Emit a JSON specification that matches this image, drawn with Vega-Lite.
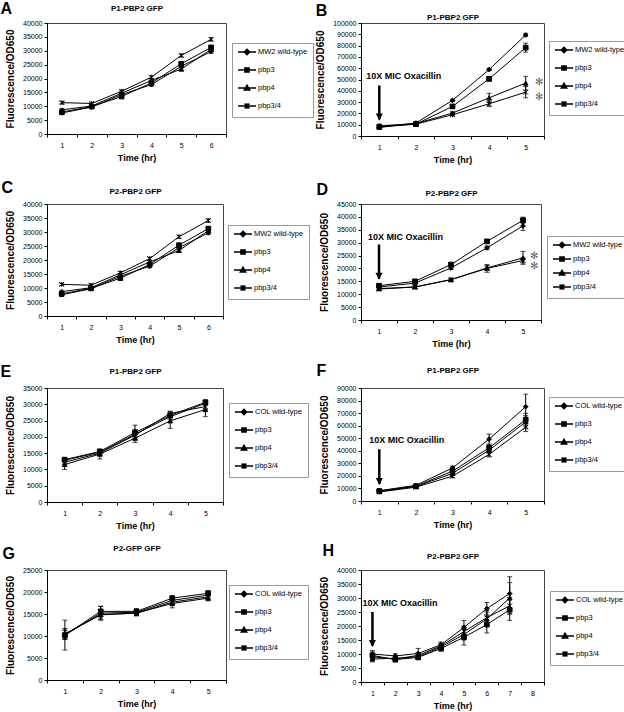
{
"$schema": "https://vega.github.io/schema/vega-lite/v6.json",
"padding": 0,
"columns": 2,
"bounds": "flush",
"spacing": {"row": 68, "column": 135},
"resolve": {"scale": {"shape": "independent"}, "legend": {"shape": "independent"}},
"datasets": {
"a": [
{"t":1,"s":"MW2 wild-type","v":7600,"lo":7100,"hi":8100},{"t":1,"s":"pbp3","v":7900,"lo":7400,"hi":8400},{"t":1,"s":"pbp4","v":8700,"lo":8200,"hi":9200},{"t":1,"s":"pbp3/4","v":11300,"lo":10900,"hi":11700},
{"t":2,"s":"MW2 wild-type","v":9700,"lo":9300,"hi":10100},{"t":2,"s":"pbp3","v":9900,"lo":9500,"hi":10300},{"t":2,"s":"pbp4","v":10100,"lo":9700,"hi":10500},{"t":2,"s":"pbp3/4","v":11000,"lo":10600,"hi":11400},
{"t":3,"s":"MW2 wild-type","v":14200,"lo":13700,"hi":14700},{"t":3,"s":"pbp3","v":13500,"lo":13000,"hi":14000},{"t":3,"s":"pbp4","v":14700,"lo":14200,"hi":15200},{"t":3,"s":"pbp3/4","v":15400,"lo":14900,"hi":15900},
{"t":4,"s":"MW2 wild-type","v":17800,"lo":17200,"hi":18400},{"t":4,"s":"pbp3","v":18400,"lo":17900,"hi":18900},{"t":4,"s":"pbp4","v":19300,"lo":18800,"hi":19800},{"t":4,"s":"pbp3/4","v":20500,"lo":20000,"hi":21000},
{"t":5,"s":"MW2 wild-type","v":24400,"lo":23800,"hi":25000},{"t":5,"s":"pbp3","v":25300,"lo":24700,"hi":25900},{"t":5,"s":"pbp4","v":23400,"lo":22700,"hi":24100},{"t":5,"s":"pbp3/4","v":28300,"lo":27800,"hi":28800},
{"t":6,"s":"MW2 wild-type","v":29700,"lo":29100,"hi":30300},{"t":6,"s":"pbp3","v":31200,"lo":30500,"hi":31900},{"t":6,"s":"pbp4","v":30500,"lo":29900,"hi":31100},{"t":6,"s":"pbp3/4","v":34100,"lo":33500,"hi":34700}
],
"b": [
{"t":1,"s":"MW2 wild-type","v":7500,"lo":6000,"hi":9000},{"t":1,"s":"pbp3","v":8000,"lo":6500,"hi":9500},{"t":1,"s":"pbp4","v":9000,"lo":7500,"hi":10500},{"t":1,"s":"pbp3/4","v":8500,"lo":7000,"hi":10000},
{"t":2,"s":"MW2 wild-type","v":11500,"lo":10700,"hi":12300},{"t":2,"s":"pbp3","v":10500,"lo":9700,"hi":11300},{"t":2,"s":"pbp4","v":11000,"lo":10200,"hi":11800},{"t":2,"s":"pbp3/4","v":10500,"lo":9700,"hi":11300},
{"t":3,"s":"MW2 wild-type","v":31500,"lo":30500,"hi":32500},{"t":3,"s":"pbp3","v":26200,"lo":25200,"hi":27200},{"t":3,"s":"pbp4","v":20300,"lo":18800,"hi":21800},{"t":3,"s":"pbp3/4","v":18800,"lo":17800,"hi":19800},
{"t":4,"s":"MW2 wild-type","v":58800,"lo":57800,"hi":59800},{"t":4,"s":"pbp3","v":50600,"lo":48600,"hi":52600},{"t":4,"s":"pbp4","v":33800,"lo":29800,"hi":37800},{"t":4,"s":"pbp3/4","v":28500,"lo":26000,"hi":31000},
{"t":5,"s":"MW2 wild-type","v":89400,"lo":87900,"hi":90900},{"t":5,"s":"pbp3","v":78200,"lo":74200,"hi":82200},{"t":5,"s":"pbp4","v":46800,"lo":40800,"hi":52800},{"t":5,"s":"pbp3/4","v":38800,"lo":33800,"hi":43800}
],
"d": [
{"t":1,"s":"MW2 wild-type","v":12800,"lo":12200,"hi":13400},{"t":1,"s":"pbp3","v":13300,"lo":12700,"hi":13900},{"t":1,"s":"pbp4","v":12200,"lo":11600,"hi":12800},{"t":1,"s":"pbp3/4","v":12000,"lo":11400,"hi":12600},
{"t":2,"s":"MW2 wild-type","v":14300,"lo":13800,"hi":14800},{"t":2,"s":"pbp3","v":15000,"lo":14500,"hi":15500},{"t":2,"s":"pbp4","v":12800,"lo":12300,"hi":13300},{"t":2,"s":"pbp3/4","v":12800,"lo":12300,"hi":13300},
{"t":3,"s":"MW2 wild-type","v":20200,"lo":19600,"hi":20800},{"t":3,"s":"pbp3","v":21500,"lo":20900,"hi":22100},{"t":3,"s":"pbp4","v":15600,"lo":15100,"hi":16100},{"t":3,"s":"pbp3/4","v":15700,"lo":15200,"hi":16200},
{"t":4,"s":"MW2 wild-type","v":28000,"lo":27300,"hi":28700},{"t":4,"s":"pbp3","v":30500,"lo":30000,"hi":31000},{"t":4,"s":"pbp4","v":20200,"lo":19200,"hi":21200},{"t":4,"s":"pbp3/4","v":20000,"lo":18500,"hi":21500},
{"t":5,"s":"MW2 wild-type","v":36500,"lo":34700,"hi":38300},{"t":5,"s":"pbp3","v":38700,"lo":37500,"hi":39900},{"t":5,"s":"pbp4","v":24100,"lo":21600,"hi":26600},{"t":5,"s":"pbp3/4","v":23100,"lo":22100,"hi":24100}
],
"e": [
{"t":1,"s":"COL wild-type","v":12800,"lo":12200,"hi":13400},{"t":1,"s":"pbp3","v":13000,"lo":12400,"hi":13600},{"t":1,"s":"pbp4","v":11500,"lo":10000,"hi":13000},{"t":1,"s":"pbp3/4","v":12200,"lo":11400,"hi":13000},
{"t":2,"s":"COL wild-type","v":15300,"lo":14600,"hi":16000},{"t":2,"s":"pbp3","v":15500,"lo":14800,"hi":16200},{"t":2,"s":"pbp4","v":14700,"lo":13200,"hi":16200},{"t":2,"s":"pbp3/4","v":15000,"lo":14200,"hi":15800},
{"t":3,"s":"COL wild-type","v":20800,"lo":19300,"hi":22300},{"t":3,"s":"pbp3","v":21300,"lo":19000,"hi":23600},{"t":3,"s":"pbp4","v":19600,"lo":18300,"hi":20900},{"t":3,"s":"pbp3/4","v":20500,"lo":19300,"hi":21700},
{"t":4,"s":"COL wild-type","v":26200,"lo":25400,"hi":27000},{"t":4,"s":"pbp3","v":26600,"lo":25800,"hi":27400},{"t":4,"s":"pbp4","v":24900,"lo":22600,"hi":27200},{"t":4,"s":"pbp3/4","v":27200,"lo":26500,"hi":27900},
{"t":5,"s":"COL wild-type","v":30300,"lo":29500,"hi":31100},{"t":5,"s":"pbp3","v":30600,"lo":29800,"hi":31400},{"t":5,"s":"pbp4","v":28400,"lo":26200,"hi":30600},{"t":5,"s":"pbp3/4","v":29300,"lo":28300,"hi":30300}
],
"f": [
{"t":1,"s":"COL wild-type","v":8200,"lo":7400,"hi":9000},{"t":1,"s":"pbp3","v":8000,"lo":7200,"hi":8800},{"t":1,"s":"pbp4","v":7500,"lo":6700,"hi":8300},{"t":1,"s":"pbp3/4","v":7200,"lo":6400,"hi":8000},
{"t":2,"s":"COL wild-type","v":12500,"lo":11700,"hi":13300},{"t":2,"s":"pbp3","v":11800,"lo":11000,"hi":12600},{"t":2,"s":"pbp4","v":11500,"lo":10700,"hi":12300},{"t":2,"s":"pbp3/4","v":11000,"lo":10200,"hi":11800},
{"t":3,"s":"COL wild-type","v":26300,"lo":24800,"hi":27800},{"t":3,"s":"pbp3","v":23800,"lo":22300,"hi":25300},{"t":3,"s":"pbp4","v":22000,"lo":20500,"hi":23500},{"t":3,"s":"pbp3/4","v":19800,"lo":18600,"hi":21000},
{"t":4,"s":"COL wild-type","v":49300,"lo":45300,"hi":53300},{"t":4,"s":"pbp3","v":42300,"lo":39800,"hi":44800},{"t":4,"s":"pbp4","v":40500,"lo":38000,"hi":43000},{"t":4,"s":"pbp3/4","v":37100,"lo":35100,"hi":39100},
{"t":5,"s":"COL wild-type","v":75100,"lo":65100,"hi":85100},{"t":5,"s":"pbp3","v":64800,"lo":59800,"hi":69800},{"t":5,"s":"pbp4","v":63000,"lo":58000,"hi":68000},{"t":5,"s":"pbp3/4","v":58800,"lo":55300,"hi":62300}
],
"g": [
{"t":1,"s":"COL wild-type","v":10200,"lo":6800,"hi":13600},{"t":1,"s":"pbp3","v":10200,"lo":9200,"hi":11200},{"t":1,"s":"pbp4","v":10500,"lo":9300,"hi":11700},{"t":1,"s":"pbp3/4","v":10400,"lo":9400,"hi":11400},
{"t":2,"s":"COL wild-type","v":15200,"lo":13700,"hi":16700},{"t":2,"s":"pbp3","v":15600,"lo":14400,"hi":16800},{"t":2,"s":"pbp4","v":14800,"lo":13600,"hi":16000},{"t":2,"s":"pbp3/4","v":14900,"lo":13900,"hi":15900},
{"t":3,"s":"COL wild-type","v":15400,"lo":14800,"hi":16000},{"t":3,"s":"pbp3","v":15600,"lo":15000,"hi":16200},{"t":3,"s":"pbp4","v":15200,"lo":14600,"hi":15800},{"t":3,"s":"pbp3/4","v":15200,"lo":14600,"hi":15800},
{"t":4,"s":"COL wild-type","v":18100,"lo":17400,"hi":18800},{"t":4,"s":"pbp3","v":18600,"lo":18100,"hi":19100},{"t":4,"s":"pbp4","v":17400,"lo":16400,"hi":18400},{"t":4,"s":"pbp3/4","v":17700,"lo":17000,"hi":18400},
{"t":5,"s":"COL wild-type","v":19300,"lo":18700,"hi":19900},{"t":5,"s":"pbp3","v":19700,"lo":19100,"hi":20300},{"t":5,"s":"pbp4","v":18600,"lo":18000,"hi":19200},{"t":5,"s":"pbp3/4","v":18900,"lo":18300,"hi":19500}
],
"h": [
{"t":1,"s":"COL wild-type","v":10000,"lo":8800,"hi":11200},{"t":1,"s":"pbp3","v":9500,"lo":8300,"hi":10700},{"t":1,"s":"pbp4","v":8200,"lo":7200,"hi":9200},{"t":1,"s":"pbp3/4","v":9000,"lo":8000,"hi":10000},
{"t":2,"s":"COL wild-type","v":9300,"lo":8500,"hi":10100},{"t":2,"s":"pbp3","v":8000,"lo":7200,"hi":8800},{"t":2,"s":"pbp4","v":8500,"lo":7700,"hi":9300},{"t":2,"s":"pbp3/4","v":8200,"lo":7400,"hi":9000},
{"t":3,"s":"COL wild-type","v":10200,"lo":8400,"hi":12000},{"t":3,"s":"pbp3","v":8800,"lo":8000,"hi":9600},{"t":3,"s":"pbp4","v":9000,"lo":8200,"hi":9800},{"t":3,"s":"pbp3/4","v":9500,"lo":8700,"hi":10300},
{"t":4,"s":"COL wild-type","v":13300,"lo":12300,"hi":14300},{"t":4,"s":"pbp3","v":12000,"lo":11000,"hi":13000},{"t":4,"s":"pbp4","v":12500,"lo":11500,"hi":13500},{"t":4,"s":"pbp3/4","v":12900,"lo":11900,"hi":13900},
{"t":5,"s":"COL wild-type","v":19500,"lo":17000,"hi":22000},{"t":5,"s":"pbp3","v":16000,"lo":13200,"hi":18800},{"t":5,"s":"pbp4","v":17000,"lo":15000,"hi":19000},{"t":5,"s":"pbp3/4","v":18000,"lo":16000,"hi":20000},
{"t":6,"s":"COL wild-type","v":26200,"lo":24000,"hi":28400},{"t":6,"s":"pbp3","v":20500,"lo":17500,"hi":23500},{"t":6,"s":"pbp4","v":22500,"lo":20000,"hi":25000},{"t":6,"s":"pbp3/4","v":23000,"lo":20500,"hi":25500},
{"t":7,"s":"COL wild-type","v":31600,"lo":25600,"hi":37600},{"t":7,"s":"pbp3","v":25800,"lo":22000,"hi":29600},{"t":7,"s":"pbp4","v":30000,"lo":24500,"hi":35500},{"t":7,"s":"pbp3/4","v":27200,"lo":24200,"hi":30200}
]
},
"concat": [
{"title": {"text": "A", "offset": -13, "dx": -5},
 "width": 179, "height": 111, "data": {"name": "a"},
 "resolve": {"axis": {"x": "independent"}, "scale": {"shape": "independent"}, "legend": {"shape": "independent"}},
 "encoding": {
  "x": {"field": "t", "type": "ordinal", "scale": {"type": "band", "domain": [1,2,3,4,5,6], "paddingInner": 0, "paddingOuter": 0}, "axis": null},
  "y": {"field": "v", "type": "quantitative", "title": "Fluorescence/OD650", "scale": {"domain": [0, 40000], "nice": false}, "axis": {"values": [0,5000,10000,15000,20000,25000,30000,35000,40000], "format": "d"}}},
 "layer": [
  {"mark": {"type": "errorbar", "ticks": {"size": 5}, "color": "black", "thickness": 1}, "encoding": {
    "x": {"field": "t", "type": "ordinal", "title": "Time (hr)", "scale": {"type": "band", "domain": [1,2,3,4,5,6], "paddingInner": 0, "paddingOuter": 0}, "axis": {"orient": "bottom", "tickBand": "extent"}},
    "y": {"field": "lo", "type": "quantitative", "title": "Fluorescence/OD650", "scale": {"domain": [0, 40000], "nice": false}, "axis": {"values": [0,5000,10000,15000,20000,25000,30000,35000,40000], "format": "d"}}, "y2": {"field": "hi"}, "detail": {"field": "s"}}},
  {"mark": {"type": "line", "color": "black", "strokeWidth": 1}, "encoding": {
    "x": {"field": "t", "type": "ordinal", "title": "P1-PBP2 GFP", "scale": {"type": "band", "domain": [1,2,3,4,5,6], "paddingInner": 0, "paddingOuter": 0}, "axis": {"orient": "top", "labels": false, "ticks": false, "domain": false, "titlePadding": 11, "titleFontSize": 8}},
    "detail": {"field": "s"}}},
  {"mark": {"type": "point", "filled": true, "fill": "black", "stroke": "black", "strokeWidth": 1, "size": 22, "opacity": 1}, "encoding": {"shape": {"field": "s", "type": "nominal", "scale": {"domain": ["MW2 wild-type","pbp3","pbp4","pbp3/4"], "range": ["diamond","square","triangle-up","M-1,-1L1,1M-1,1L1,-1M0,-1V1"]}, "legend": null}}},
  {"mark": {"type": "point", "filled": true, "fill": "black", "stroke": "black", "strokeWidth": 1, "opacity": 0}, "encoding": {"shape": {"field": "s", "type": "nominal", "scale": {"domain": ["MW2 wild-type","pbp3","pbp4","pbp3/4"], "range": ["M-1,0H5M2,-0.9L2.9,0L2,0.9L1.1,0Z","M-1,0H5M1.3,-0.7H2.7V0.7H1.3Z","M-1,0H5M2,-0.9L2.9,0.7H1.1Z","M-1,0H5M1.2,-0.8L2.8,0.8M1.2,0.8L2.8,-0.8M2,-0.9V0.9"]}, "legend": {"orient": "none", "legendX": 185, "legendY": 20, "title": null}}}}
 ]
},
{"title": {"text": "B", "offset": -6, "dx": 0},
 "width": 183, "height": 113, "data": {"name": "b"},
 "resolve": {"axis": {"x": "independent"}, "scale": {"shape": "independent"}, "legend": {"shape": "independent"}},
 "encoding": {
  "x": {"field": "t", "type": "ordinal", "scale": {"type": "band", "domain": [1,2,3,4,5], "paddingInner": 0, "paddingOuter": 0}, "axis": null},
  "y": {"field": "v", "type": "quantitative", "title": "Fluorescence/OD650", "scale": {"domain": [0, 100000], "nice": false}, "axis": {"values": [0,10000,20000,30000,40000,50000,60000,70000,80000,90000,100000], "format": "d"}}},
 "layer": [
  {"mark": {"type": "errorbar", "ticks": {"size": 5}, "color": "black", "thickness": 1}, "encoding": {
    "x": {"field": "t", "type": "ordinal", "title": "Time (hr)", "scale": {"type": "band", "domain": [1,2,3,4,5], "paddingInner": 0, "paddingOuter": 0}, "axis": {"orient": "bottom", "tickBand": "extent"}},
    "y": {"field": "lo", "type": "quantitative", "title": "Fluorescence/OD650", "scale": {"domain": [0, 100000], "nice": false}, "axis": {"values": [0,10000,20000,30000,40000,50000,60000,70000,80000,90000,100000], "format": "d"}}, "y2": {"field": "hi"}, "detail": {"field": "s"}}},
  {"mark": {"type": "line", "color": "black", "strokeWidth": 1}, "encoding": {
    "x": {"field": "t", "type": "ordinal", "title": "P1-PBP2 GFP", "scale": {"type": "band", "domain": [1,2,3,4,5], "paddingInner": 0, "paddingOuter": 0}, "axis": {"orient": "top", "labels": false, "ticks": false, "domain": false, "titlePadding": 2, "titleFontSize": 8}},
    "detail": {"field": "s"}}},
  {"mark": {"type": "point", "filled": true, "fill": "black", "stroke": "black", "strokeWidth": 1, "size": 22, "opacity": 1}, "encoding": {"shape": {"field": "s", "type": "nominal", "scale": {"domain": ["MW2 wild-type","pbp3","pbp4","pbp3/4"], "range": ["diamond","square","triangle-up","M-1,-1L1,1M-1,1L1,-1M0,-1V1"]}, "legend": null}}},
  {"mark": {"type": "point", "filled": true, "fill": "black", "stroke": "black", "strokeWidth": 1, "opacity": 0}, "encoding": {"shape": {"field": "s", "type": "nominal", "scale": {"domain": ["MW2 wild-type","pbp3","pbp4","pbp3/4"], "range": ["M-1,0H5M2,-0.9L2.9,0L2,0.9L1.1,0Z","M-1,0H5M1.3,-0.7H2.7V0.7H1.3Z","M-1,0H5M2,-0.9L2.9,0.7H1.1Z","M-1,0H5M1.2,-0.8L2.8,0.8M1.2,0.8L2.8,-0.8M2,-0.9V0.9"]}, "legend": {"orient": "none", "legendX": 188, "legendY": 18, "title": null}}}},
  {"data": {"values": [{"t": 1, "v": 53000, "txt": "10X MIC Oxacillin"}]}, "mark": {"type": "text", "align": "left", "baseline": "middle", "dx": -13, "fontSize": 9, "fontWeight": "bold", "color": "black"}, "encoding": {"text": {"field": "txt"}}},
  {"data": {"values": [{"t": 1, "v": 44700, "v2": 14700}]}, "mark": {"type": "rule", "strokeWidth": 2.5, "color": "black"}, "encoding": {"y2": {"field": "v2"}}},
  {"data": {"values": [{"t": 1, "v": 13800}]}, "mark": {"type": "point", "shape": "M-1,-2L1,-2L0,0Z", "size": 49, "filled": true, "color": "black", "opacity": 1}},
  {"data": {"values": [{"t": 5, "v": 47600, "txt": "✻"}, {"t": 5, "v": 34400, "txt": "✻"}]}, "mark": {"type": "text", "dx": 13, "fontSize": 10, "color": "#666", "baseline": "middle"}, "encoding": {"text": {"field": "txt"}}}
 ]
},
{"title": {"text": "C", "offset": -9, "dx": -4},
 "width": 176, "height": 112, "data": {"name": "a"},
 "resolve": {"axis": {"x": "independent"}, "scale": {"shape": "independent"}, "legend": {"shape": "independent"}},
 "encoding": {
  "x": {"field": "t", "type": "ordinal", "scale": {"type": "band", "domain": [1,2,3,4,5,6], "paddingInner": 0, "paddingOuter": 0}, "axis": null},
  "y": {"field": "v", "type": "quantitative", "title": "Fluorescence/OD650", "scale": {"domain": [0, 40000], "nice": false}, "axis": {"values": [0,5000,10000,15000,20000,25000,30000,35000,40000], "format": "d"}}},
 "layer": [
  {"mark": {"type": "errorbar", "ticks": {"size": 5}, "color": "black", "thickness": 1}, "encoding": {
    "x": {"field": "t", "type": "ordinal", "title": "Time (hr)", "scale": {"type": "band", "domain": [1,2,3,4,5,6], "paddingInner": 0, "paddingOuter": 0}, "axis": {"orient": "bottom", "tickBand": "extent"}},
    "y": {"field": "lo", "type": "quantitative", "title": "Fluorescence/OD650", "scale": {"domain": [0, 40000], "nice": false}, "axis": {"values": [0,5000,10000,15000,20000,25000,30000,35000,40000], "format": "d"}}, "y2": {"field": "hi"}, "detail": {"field": "s"}}},
  {"mark": {"type": "line", "color": "black", "strokeWidth": 1}, "encoding": {
    "x": {"field": "t", "type": "ordinal", "title": "P2-PBP2 GFP", "scale": {"type": "band", "domain": [1,2,3,4,5,6], "paddingInner": 0, "paddingOuter": 0}, "axis": {"orient": "top", "labels": false, "ticks": false, "domain": false, "titlePadding": 9, "titleFontSize": 8}},
    "detail": {"field": "s"}}},
  {"mark": {"type": "point", "filled": true, "fill": "black", "stroke": "black", "strokeWidth": 1, "size": 22, "opacity": 1}, "encoding": {"shape": {"field": "s", "type": "nominal", "scale": {"domain": ["MW2 wild-type","pbp3","pbp4","pbp3/4"], "range": ["diamond","square","triangle-up","M-1,-1L1,1M-1,1L1,-1M0,-1V1"]}, "legend": null}}},
  {"mark": {"type": "point", "filled": true, "fill": "black", "stroke": "black", "strokeWidth": 1, "opacity": 0}, "encoding": {"shape": {"field": "s", "type": "nominal", "scale": {"domain": ["MW2 wild-type","pbp3","pbp4","pbp3/4"], "range": ["M-1,0H5M2,-0.9L2.9,0L2,0.9L1.1,0Z","M-1,0H5M1.3,-0.7H2.7V0.7H1.3Z","M-1,0H5M2,-0.9L2.9,0.7H1.1Z","M-1,0H5M1.2,-0.8L2.8,0.8M1.2,0.8L2.8,-0.8M2,-0.9V0.9"]}, "legend": {"orient": "none", "legendX": 181, "legendY": 21, "title": null}}}}
 ]
},
{"title": {"text": "D", "offset": -9, "dx": -3},
 "width": 180, "height": 116, "data": {"name": "d"},
 "resolve": {"axis": {"x": "independent"}, "scale": {"shape": "independent"}, "legend": {"shape": "independent"}},
 "encoding": {
  "x": {"field": "t", "type": "ordinal", "scale": {"type": "band", "domain": [1,2,3,4,5], "paddingInner": 0, "paddingOuter": 0}, "axis": null},
  "y": {"field": "v", "type": "quantitative", "title": "Fluorescence/OD650", "scale": {"domain": [0, 45000], "nice": false}, "axis": {"values": [0,5000,10000,15000,20000,25000,30000,35000,40000,45000], "format": "d"}}},
 "layer": [
  {"mark": {"type": "errorbar", "ticks": {"size": 5}, "color": "black", "thickness": 1}, "encoding": {
    "x": {"field": "t", "type": "ordinal", "title": "Time (hr)", "scale": {"type": "band", "domain": [1,2,3,4,5], "paddingInner": 0, "paddingOuter": 0}, "axis": {"orient": "bottom", "tickBand": "extent"}},
    "y": {"field": "lo", "type": "quantitative", "title": "Fluorescence/OD650", "scale": {"domain": [0, 45000], "nice": false}, "axis": {"values": [0,5000,10000,15000,20000,25000,30000,35000,40000,45000], "format": "d"}}, "y2": {"field": "hi"}, "detail": {"field": "s"}}},
  {"mark": {"type": "line", "color": "black", "strokeWidth": 1}, "encoding": {
    "x": {"field": "t", "type": "ordinal", "title": "P2-PBP2 GFP", "scale": {"type": "band", "domain": [1,2,3,4,5], "paddingInner": 0, "paddingOuter": 0}, "axis": {"orient": "top", "labels": false, "ticks": false, "domain": false, "titlePadding": 7, "titleFontSize": 8}},
    "detail": {"field": "s"}}},
  {"mark": {"type": "point", "filled": true, "fill": "black", "stroke": "black", "strokeWidth": 1, "size": 22, "opacity": 1}, "encoding": {"shape": {"field": "s", "type": "nominal", "scale": {"domain": ["MW2 wild-type","pbp3","pbp4","pbp3/4"], "range": ["diamond","square","triangle-up","M-1,-1L1,1M-1,1L1,-1M0,-1V1"]}, "legend": null}}},
  {"mark": {"type": "point", "filled": true, "fill": "black", "stroke": "black", "strokeWidth": 1, "opacity": 0}, "encoding": {"shape": {"field": "s", "type": "nominal", "scale": {"domain": ["MW2 wild-type","pbp3","pbp4","pbp3/4"], "range": ["M-1,0H5M2,-0.9L2.9,0L2,0.9L1.1,0Z","M-1,0H5M1.3,-0.7H2.7V0.7H1.3Z","M-1,0H5M2,-0.9L2.9,0.7H1.1Z","M-1,0H5M1.2,-0.8L2.8,0.8M1.2,0.8L2.8,-0.8M2,-0.9V0.9"]}, "legend": {"orient": "none", "legendX": 186, "legendY": 32, "rowPadding": 2, "title": null}}}},
  {"data": {"values": [{"t": 1, "v": 32300, "txt": "10X MIC Oxacillin"}]}, "mark": {"type": "text", "align": "left", "baseline": "middle", "dx": -11, "fontSize": 9, "fontWeight": "bold", "color": "black"}, "encoding": {"text": {"field": "txt"}}},
  {"data": {"values": [{"t": 1, "v": 29300, "v2": 16000}]}, "mark": {"type": "rule", "strokeWidth": 2.5, "color": "black"}, "encoding": {"y2": {"field": "v2"}}},
  {"data": {"values": [{"t": 1, "v": 15600}]}, "mark": {"type": "point", "shape": "M-1,-2L1,-2L0,0Z", "size": 49, "filled": true, "color": "black", "opacity": 1}},
  {"data": {"values": [{"t": 5, "v": 25000, "txt": "✻"}, {"t": 5, "v": 21100, "txt": "✻"}]}, "mark": {"type": "text", "dx": 11, "fontSize": 10, "color": "#666", "baseline": "middle"}, "encoding": {"text": {"field": "txt"}}}
 ]
},
{"title": {"text": "E", "offset": -13, "dx": -5},
 "width": 176, "height": 114, "data": {"name": "e"},
 "resolve": {"axis": {"x": "independent"}, "scale": {"shape": "independent"}, "legend": {"shape": "independent"}},
 "encoding": {
  "x": {"field": "t", "type": "ordinal", "scale": {"type": "band", "domain": [1,2,3,4,5], "paddingInner": 0, "paddingOuter": 0}, "axis": null},
  "y": {"field": "v", "type": "quantitative", "title": "Fluorescence/OD650", "scale": {"domain": [0, 35000], "nice": false}, "axis": {"values": [0,5000,10000,15000,20000,25000,30000,35000], "format": "d"}}},
 "layer": [
  {"mark": {"type": "errorbar", "ticks": {"size": 5}, "color": "black", "thickness": 1}, "encoding": {
    "x": {"field": "t", "type": "ordinal", "title": "Time (hr)", "scale": {"type": "band", "domain": [1,2,3,4,5], "paddingInner": 0, "paddingOuter": 0}, "axis": {"orient": "bottom", "tickBand": "extent"}},
    "y": {"field": "lo", "type": "quantitative", "title": "Fluorescence/OD650", "scale": {"domain": [0, 35000], "nice": false}, "axis": {"values": [0,5000,10000,15000,20000,25000,30000,35000], "format": "d"}}, "y2": {"field": "hi"}, "detail": {"field": "s"}}},
  {"mark": {"type": "line", "color": "black", "strokeWidth": 1}, "encoding": {
    "x": {"field": "t", "type": "ordinal", "title": "P1-PBP2 GFP", "scale": {"type": "band", "domain": [1,2,3,4,5], "paddingInner": 0, "paddingOuter": 0}, "axis": {"orient": "top", "labels": false, "ticks": false, "domain": false, "titlePadding": 13, "titleFontSize": 8}},
    "detail": {"field": "s"}}},
  {"mark": {"type": "point", "filled": true, "fill": "black", "stroke": "black", "strokeWidth": 1, "size": 22, "opacity": 1}, "encoding": {"shape": {"field": "s", "type": "nominal", "scale": {"domain": ["COL wild-type","pbp3","pbp4","pbp3/4"], "range": ["diamond","square","triangle-up","M-1,-1L1,1M-1,1L1,-1M0,-1V1"]}, "legend": null}}},
  {"mark": {"type": "point", "filled": true, "fill": "black", "stroke": "black", "strokeWidth": 1, "opacity": 0}, "encoding": {"shape": {"field": "s", "type": "nominal", "scale": {"domain": ["COL wild-type","pbp3","pbp4","pbp3/4"], "range": ["M-1,0H5M2,-0.9L2.9,0L2,0.9L1.1,0Z","M-1,0H5M1.3,-0.7H2.7V0.7H1.3Z","M-1,0H5M2,-0.9L2.9,0.7H1.1Z","M-1,0H5M1.2,-0.8L2.8,0.8M1.2,0.8L2.8,-0.8M2,-0.9V0.9"]}, "legend": {"orient": "none", "legendX": 182, "legendY": 15, "title": null}}}}
 ]
},
{"title": {"text": "F", "offset": -13, "dx": -3},
 "width": 183, "height": 113, "data": {"name": "f"},
 "resolve": {"axis": {"x": "independent"}, "scale": {"shape": "independent"}, "legend": {"shape": "independent"}},
 "encoding": {
  "x": {"field": "t", "type": "ordinal", "scale": {"type": "band", "domain": [1,2,3,4,5], "paddingInner": 0, "paddingOuter": 0}, "axis": null},
  "y": {"field": "v", "type": "quantitative", "title": "Fluorescence/OD650", "scale": {"domain": [0, 90000], "nice": false}, "axis": {"values": [0,10000,20000,30000,40000,50000,60000,70000,80000,90000], "format": "d"}}},
 "layer": [
  {"mark": {"type": "errorbar", "ticks": {"size": 5}, "color": "black", "thickness": 1}, "encoding": {
    "x": {"field": "t", "type": "ordinal", "title": "Time (hr)", "scale": {"type": "band", "domain": [1,2,3,4,5], "paddingInner": 0, "paddingOuter": 0}, "axis": {"orient": "bottom", "tickBand": "extent"}},
    "y": {"field": "lo", "type": "quantitative", "title": "Fluorescence/OD650", "scale": {"domain": [0, 90000], "nice": false}, "axis": {"values": [0,10000,20000,30000,40000,50000,60000,70000,80000,90000], "format": "d"}}, "y2": {"field": "hi"}, "detail": {"field": "s"}}},
  {"mark": {"type": "line", "color": "black", "strokeWidth": 1}, "encoding": {
    "x": {"field": "t", "type": "ordinal", "title": "P1-PBP2 GFP", "scale": {"type": "band", "domain": [1,2,3,4,5], "paddingInner": 0, "paddingOuter": 0}, "axis": {"orient": "top", "labels": false, "ticks": false, "domain": false, "titlePadding": 14, "titleFontSize": 8}},
    "detail": {"field": "s"}}},
  {"mark": {"type": "point", "filled": true, "fill": "black", "stroke": "black", "strokeWidth": 1, "size": 22, "opacity": 1}, "encoding": {"shape": {"field": "s", "type": "nominal", "scale": {"domain": ["COL wild-type","pbp3","pbp4","pbp3/4"], "range": ["diamond","square","triangle-up","M-1,-1L1,1M-1,1L1,-1M0,-1V1"]}, "legend": null}}},
  {"mark": {"type": "point", "filled": true, "fill": "black", "stroke": "black", "strokeWidth": 1, "opacity": 0}, "encoding": {"shape": {"field": "s", "type": "nominal", "scale": {"domain": ["COL wild-type","pbp3","pbp4","pbp3/4"], "range": ["M-1,0H5M2,-0.9L2.9,0L2,0.9L1.1,0Z","M-1,0H5M1.3,-0.7H2.7V0.7H1.3Z","M-1,0H5M2,-0.9L2.9,0.7H1.1Z","M-1,0H5M1.2,-0.8L2.8,0.8M1.2,0.8L2.8,-0.8M2,-0.9V0.9"]}, "legend": {"orient": "none", "legendX": 188, "legendY": 9, "title": null}}}},
  {"data": {"values": [{"t": 1, "v": 48500, "txt": "10X MIC Oxacillin"}]}, "mark": {"type": "text", "align": "left", "baseline": "middle", "dx": -10, "fontSize": 9, "fontWeight": "bold", "color": "black"}, "encoding": {"text": {"field": "txt"}}},
  {"data": {"values": [{"t": 1, "v": 41200, "v2": 13500}]}, "mark": {"type": "rule", "strokeWidth": 2.5, "color": "black"}, "encoding": {"y2": {"field": "v2"}}},
  {"data": {"values": [{"t": 1, "v": 12700}]}, "mark": {"type": "point", "shape": "M-1,-2L1,-2L0,0Z", "size": 49, "filled": true, "color": "black", "opacity": 1}}
 ]
},
{"title": {"text": "G", "offset": -18, "dx": -3},
 "width": 179, "height": 110, "data": {"name": "g"},
 "resolve": {"axis": {"x": "independent"}, "scale": {"shape": "independent"}, "legend": {"shape": "independent"}},
 "encoding": {
  "x": {"field": "t", "type": "ordinal", "scale": {"type": "band", "domain": [1,2,3,4,5], "paddingInner": 0, "paddingOuter": 0}, "axis": null},
  "y": {"field": "v", "type": "quantitative", "title": "Fluorescence/OD650", "scale": {"domain": [0, 25000], "nice": false}, "axis": {"values": [0,5000,10000,15000,20000,25000], "format": "d"}}},
 "layer": [
  {"mark": {"type": "errorbar", "ticks": {"size": 5}, "color": "black", "thickness": 1}, "encoding": {
    "x": {"field": "t", "type": "ordinal", "title": "Time (hr)", "scale": {"type": "band", "domain": [1,2,3,4,5], "paddingInner": 0, "paddingOuter": 0}, "axis": {"orient": "bottom", "tickBand": "extent"}},
    "y": {"field": "lo", "type": "quantitative", "title": "Fluorescence/OD650", "scale": {"domain": [0, 25000], "nice": false}, "axis": {"values": [0,5000,10000,15000,20000,25000], "format": "d"}}, "y2": {"field": "hi"}, "detail": {"field": "s"}}},
  {"mark": {"type": "line", "color": "black", "strokeWidth": 1}, "encoding": {
    "x": {"field": "t", "type": "ordinal", "title": "P2-GFP GFP", "scale": {"type": "band", "domain": [1,2,3,4,5], "paddingInner": 0, "paddingOuter": 0}, "axis": {"orient": "top", "labels": false, "ticks": false, "domain": false, "titlePadding": 18, "titleFontSize": 8}},
    "detail": {"field": "s"}}},
  {"mark": {"type": "point", "filled": true, "fill": "black", "stroke": "black", "strokeWidth": 1, "size": 22, "opacity": 1}, "encoding": {"shape": {"field": "s", "type": "nominal", "scale": {"domain": ["COL wild-type","pbp3","pbp4","pbp3/4"], "range": ["diamond","square","triangle-up","M-1,-1L1,1M-1,1L1,-1M0,-1V1"]}, "legend": null}}},
  {"mark": {"type": "point", "filled": true, "fill": "black", "stroke": "black", "strokeWidth": 1, "opacity": 0}, "encoding": {"shape": {"field": "s", "type": "nominal", "scale": {"domain": ["COL wild-type","pbp3","pbp4","pbp3/4"], "range": ["M-1,0H5M2,-0.9L2.9,0L2,0.9L1.1,0Z","M-1,0H5M1.3,-0.7H2.7V0.7H1.3Z","M-1,0H5M2,-0.9L2.9,0.7H1.1Z","M-1,0H5M1.2,-0.8L2.8,0.8M1.2,0.8L2.8,-0.8M2,-0.9V0.9"]}, "legend": {"orient": "none", "legendX": 182, "legendY": 15, "title": null}}}}
 ]
},
{"title": {"text": "H", "offset": -7, "dx": 3},
 "width": 183, "height": 112, "data": {"name": "h"},
 "resolve": {"axis": {"x": "independent"}, "scale": {"shape": "independent"}, "legend": {"shape": "independent"}},
 "encoding": {
  "x": {"field": "t", "type": "ordinal", "scale": {"type": "band", "domain": [1,2,3,4,5,6,7,8], "paddingInner": 0, "paddingOuter": 0}, "axis": null},
  "y": {"field": "v", "type": "quantitative", "title": "Fluorescence/OD650", "scale": {"domain": [0, 40000], "nice": false}, "axis": {"values": [0,5000,10000,15000,20000,25000,30000,35000,40000], "format": "d"}}},
 "layer": [
  {"mark": {"type": "errorbar", "ticks": {"size": 5}, "color": "black", "thickness": 1}, "encoding": {
    "x": {"field": "t", "type": "ordinal", "title": "Time (hr)", "scale": {"type": "band", "domain": [1,2,3,4,5,6,7,8], "paddingInner": 0, "paddingOuter": 0}, "axis": {"orient": "bottom", "tickBand": "extent"}},
    "y": {"field": "lo", "type": "quantitative", "title": "Fluorescence/OD650", "scale": {"domain": [0, 40000], "nice": false}, "axis": {"values": [0,5000,10000,15000,20000,25000,30000,35000,40000], "format": "d"}}, "y2": {"field": "hi"}, "detail": {"field": "s"}}},
  {"mark": {"type": "line", "color": "black", "strokeWidth": 1}, "encoding": {
    "x": {"field": "t", "type": "ordinal", "title": "P2-PBP2 GFP", "scale": {"type": "band", "domain": [1,2,3,4,5,6,7,8], "paddingInner": 0, "paddingOuter": 0}, "axis": {"orient": "top", "labels": false, "ticks": false, "domain": false, "titlePadding": 10, "titleFontSize": 8}},
    "detail": {"field": "s"}}},
  {"mark": {"type": "point", "filled": true, "fill": "black", "stroke": "black", "strokeWidth": 1, "size": 22, "opacity": 1}, "encoding": {"shape": {"field": "s", "type": "nominal", "scale": {"domain": ["COL wild-type","pbp3","pbp4","pbp3/4"], "range": ["diamond","square","triangle-up","M-1,-1L1,1M-1,1L1,-1M0,-1V1"]}, "legend": null}}},
  {"mark": {"type": "point", "filled": true, "fill": "black", "stroke": "black", "strokeWidth": 1, "opacity": 0}, "encoding": {"shape": {"field": "s", "type": "nominal", "scale": {"domain": ["COL wild-type","pbp3","pbp4","pbp3/4"], "range": ["M-1,0H5M2,-0.9L2.9,0L2,0.9L1.1,0Z","M-1,0H5M1.3,-0.7H2.7V0.7H1.3Z","M-1,0H5M2,-0.9L2.9,0.7H1.1Z","M-1,0H5M1.2,-0.8L2.8,0.8M1.2,0.8L2.8,-0.8M2,-0.9V0.9"]}, "legend": {"orient": "none", "legendX": 189, "legendY": 21, "title": null}}}},
  {"data": {"values": [{"t": 1, "v": 28300, "txt": "10X MIC Oxacillin"}]}, "mark": {"type": "text", "align": "left", "baseline": "middle", "dx": -10, "fontSize": 9, "fontWeight": "bold", "color": "black"}, "encoding": {"text": {"field": "txt"}}},
  {"data": {"values": [{"t": 1, "v": 25000, "v2": 12900}]}, "mark": {"type": "rule", "strokeWidth": 2.5, "color": "black"}, "encoding": {"y2": {"field": "v2"}}},
  {"data": {"values": [{"t": 1, "v": 12500}]}, "mark": {"type": "point", "shape": "M-1,-2L1,-2L0,0Z", "size": 49, "filled": true, "color": "black", "opacity": 1}}
 ]
}
],
"config": {
 "font": "Liberation Sans",
 "view": {"stroke": "#444", "strokeWidth": 1},
 "axis": {"grid": false, "domainColor": "black", "tickColor": "black", "labelColor": "black", "labelFontSize": 7, "titleColor": "black", "titleFontSize": 9, "titleFontWeight": "bold", "tickSize": 3, "labelPadding": 2},
 "axisY": {"titleFontSize": 10, "titlePadding": 7},
 "axisX": {"labelAngle": 0, "labelPadding": 4, "titlePadding": 5},
 "title": {"fontSize": 16, "fontWeight": "bold", "color": "black", "anchor": "start", "frame": "bounds"},
 "legend": {"strokeColor": "#999", "padding": 5, "rowPadding": 6, "labelFontSize": 7.5, "labelColor": "black", "symbolSize": 36, "labelOffset": 13, "fillColor": "white"}
}
}
